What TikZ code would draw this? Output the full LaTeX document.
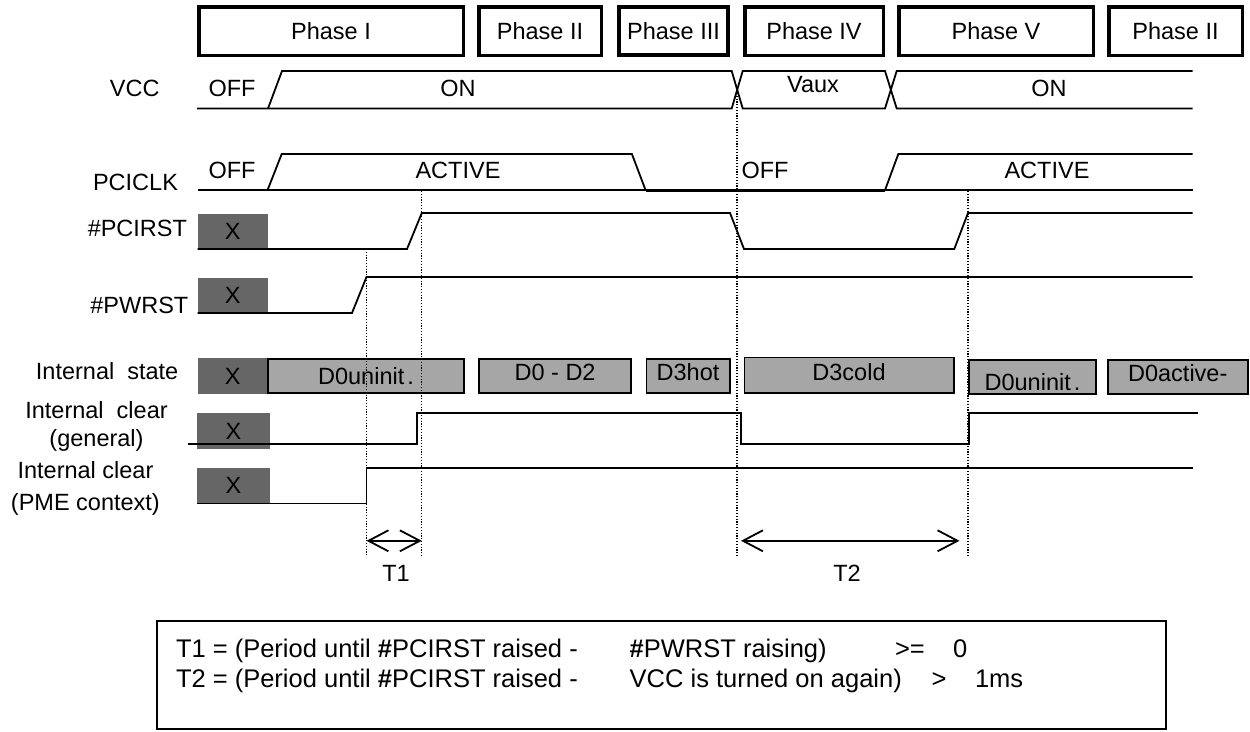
\documentclass[tikz,border=0pt]{standalone}
\usepackage{fontspec}
\setmainfont{Liberation Sans}
\usetikzlibrary{arrows.meta}
\definecolor{xgray}{HTML}{666666}
\definecolor{sgray}{HTML}{A6A6A6}
\begin{document}
\begin{tikzpicture}[x=1pt,y=-1pt,
  txt/.style={font=\fontsize{23.5pt}{28pt}\selectfont, inner sep=0pt, outer sep=0pt, text height=16.8pt, text depth=0pt},
  btxt/.style={font=\fontsize{25.5pt}{30pt}\selectfont, inner sep=0pt, outer sep=0pt, text height=18.3pt, text depth=0pt, anchor=west},
  phasebox/.style={txt, draw, line width=3.5pt, fill=white, minimum height=48.5pt},
  xbox/.style={txt, fill=xgray, minimum width=69.5pt, minimum height=34.5pt},
  stbox/.style={txt, fill=sgray, draw, line width=1.8pt, minimum height=34.2pt},
  sig/.style={line width=1.8pt, line join=miter},
  guide/.style={line width=1.1pt, dash pattern=on 1.2pt off 1.6pt},
  dim/.style={line width=1.8pt, {Straight Barb[length=20pt,width=21pt]}-{Straight Barb[length=20pt,width=21pt]}}
]
\useasboundingbox (0,0) rectangle (1250,731);
\fill[white] (0,0) rectangle (1250,731);

% phase boxes
\node[phasebox, minimum width=264.5pt] (ph1) at (331,31) {Phase I};
\node[phasebox, minimum width=122.5pt] (ph2) at (540,31) {Phase II};
\node[phasebox, minimum width=109.5pt, line width=4.3pt] (ph3) at (673.5,31) {Phase III};
\node[phasebox, minimum width=138.5pt] (ph4) at (814,31) {Phase IV};
\node[phasebox, minimum width=194.5pt] (ph5) at (996,31) {Phase V};
\node[phasebox, minimum width=133.5pt] (ph6) at (1175.5,31) {Phase II};

% signal names
\node[txt] (lvcc) at (134.7,88) {VCC};
\node[txt] (lclk) at (135.5,182) {PCICLK};
\node[txt, anchor=east] (lrst) at (187,228.5) {\#PCIRST};
\node[txt, anchor=east] (lpwr) at (188.3,305) {\#PWRST};
\node[txt, anchor=east] (lstate) at (178.3,370.6) {Internal\ \ state};
\node[txt] (lgen1) at (96.5,410) {Internal\ \ clear};
\node[txt] (lgen2) at (96.5,438.3) {(general)};
\node[txt] (lpme1) at (85.5,470) {Internal clear};
\node[txt] (lpme2) at (85.4,501.7) {(PME context)};

% X boxes
\node[xbox] (xrst) at (232.75,230.75) {X};
\node[xbox] (xpwr) at (232.75,295.35) {X};
\node[xbox, minimum height=36pt] (xst) at (232.75,376) {X};
\node[xbox, minimum width=73.3pt, minimum height=35.5pt] (xgen) at (233.35,430.75) {X};
\node[xbox, minimum width=73.3pt, minimum height=36pt] (xpme) at (233.35,485.5) {X};

% internal state boxes
\node[stbox, minimum width=195.3pt] (s1) at (366,376) {D0uninit\kern3pt.};
\node[stbox, minimum width=152.4pt, text depth=7pt] (s2) at (555.1,376) {D0 - D2};
\node[stbox, minimum width=83.2pt, text depth=7pt] (s3) at (688,376) {D3hot};
\node[stbox, minimum width=209.2pt, minimum height=35.6pt, text depth=7pt] (s4) at (849,375.3) {D3cold};
\node[stbox, minimum width=127.2pt, text height=27pt] (s5) at (1032.5,377) {D0uninit\kern3pt.};
\node[stbox, minimum width=139.7pt, text depth=8pt] (s6) at (1177.75,377) {D0active-};

% VCC
\draw[sig] (197,108.5) -- (731.7,108.5) -- (742.7,71) -- (885,71) -- (896.7,108.5) -- (1192.7,108.5);
\draw[sig] (268,108.5) -- (282,71) -- (731.7,71) -- (742.7,108.5) -- (885,108.5) -- (896.7,71) -- (1192.7,71);
\node[txt] (voff) at (232,88) {OFF};
\node[txt] (von1) at (458,88) {ON};
\node[txt] (vaux) at (813,84) {Vaux};
\node[txt] (von2) at (1049,88) {ON};

% PCICLK
\draw[sig] (197.5,190.2) -- (1192.7,190.2);
\draw[sig] (267.5,190.2) -- (281.7,154) -- (631.9,154) -- (645.6,190.2);
\draw[line width=2.8pt] (645.6,190.2) -- (885,190.2);
\draw[sig] (885,190.2) -- (898.3,154) -- (1192.7,154);
\node[txt] (coff1) at (232,170) {OFF};
\node[txt] (cact1) at (458,170) {ACTIVE};
\node[txt] (coff2) at (765,170) {OFF};
\node[txt] (cact2) at (1047,170) {ACTIVE};

% #PCIRST
\draw[sig] (197.5,249) -- (407,249) -- (421.8,213) -- (730,213) -- (744,249) -- (954.3,249) -- (968,213) -- (1192.7,213);
% #PWRST
\draw[sig] (197.5,313) -- (352,313) -- (366.5,277) -- (1192.7,277);
% Internal clear (general)
\draw[sig] (188.3,443.8) -- (417,443.8) -- (417,412.6) -- (741,412.6) -- (741,443.8) -- (969,443.8) -- (969,412.6) -- (1198,412.6);
% Internal clear (PME context)
\draw[sig] (197,503.5) -- (366.5,503.5) -- (366.5,467.6) -- (1192.7,467.6);

% guide lines
\coordinate (g1t) at (366.5,249);
\coordinate (g1b) at (366.5,557);
\coordinate (g2t) at (421.8,191);
\coordinate (g2b) at (421.8,557);
\coordinate (g3t) at (737,93);
\coordinate (g3b) at (737,557);
\coordinate (g4t) at (968,191);
\coordinate (g4b) at (968,557);
\draw[guide] (g1t) -- (g1b);
\draw[guide] (g2t) -- (g2b);
\draw[guide] (g3t) -- (g3b);
\draw[guide] (g4t) -- (g4b);

% timing arrows
\coordinate (t1a) at (366.5,540.8);
\coordinate (t1b) at (421.8,540.8);
\coordinate (t2a) at (741,540.8);
\coordinate (t2b) at (959.5,540.8);
\draw[dim] (t1a) -- (t1b);
\draw[dim] (t2a) -- (t2b);
\node[txt] (t1l) at (396,573) {T1};
\node[txt] (t2l) at (847,573) {T2};

% legend box
\node[draw, line width=2pt, minimum width=1009pt, minimum height=107.6pt, inner sep=0pt] (legend) at (661.2,674.8) {};
\node[btxt] (l1a) at (176,648) {T1 = (Period until \textbf{\#}PCIRST raised -};
\node[btxt] (l1b) at (629.7,648) {\textbf{\#}PWRST raising)};
\node[btxt] (l1c) at (895,648) {>=};
\node[btxt] (l1d) at (953,648) {0};
\node[btxt] (l2a) at (176,678.3) {T2 = (Period until \textbf{\#}PCIRST raised -};
\node[btxt] (l2b) at (629.7,678.3) {VCC is turned on again)};
\node[btxt] (l2c) at (931.7,678.3) {>};
\node[btxt] (l2d) at (975,678.3) {1ms};
\end{tikzpicture}
\end{document}
